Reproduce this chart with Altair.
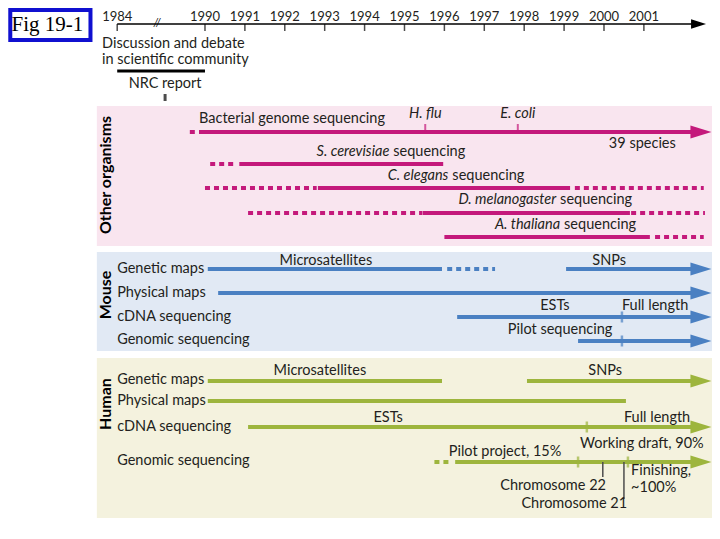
import altair as alt
import pandas as pd

FONT = "Lato"
TXT = "#231f20"

# ---------------- time axis (years; 1984 drawn on a broken, compressed stretch)
years = list(range(1990, 2002))
year_labels = [str(y) for y in years]
start_label = "1984"
start_pos = 1987.8
break_pos = 1988.8
axis_end = 2002.27
axis_tip = 2002.37

# ---------------- lanes (row position of each activity line)
lane_names = ["bact", "scer", "cel", "dmel", "atha",
              "m_gen", "m_phys", "m_cdna", "m_genomic",
              "h_gen", "h_phys", "h_cdna", "h_genomic"]
lane_rows = [132, 164, 188, 213, 237,
             269, 293, 317, 341,
             381, 401, 427, 462]
lane_group = ["other"] * 5 + ["mouse"] * 4 + ["human"] * 4
lane_row = dict(zip(lane_names, lane_rows))
lane_grp = dict(zip(lane_names, lane_group))

# ---------------- activity segments (start / end year, status)
seg_lane = ["bact", "bact",
            "scer", "scer",
            "cel", "cel", "cel",
            "dmel", "dmel", "dmel",
            "atha", "atha",
            "m_gen", "m_gen", "m_gen", "m_phys", "m_cdna", "m_genomic",
            "h_gen", "h_gen", "h_phys", "h_cdna", "h_genomic", "h_genomic"]
seg_start = [1989.62, 1989.85,
             1990.13, 1990.86,
             1990.0, 1992.83, 1999.27,
             1991.08, 1995.46, 2000.68,
             1996.0, 2001.28,
             1990.07, 1996.07, 1999.05, 1990.33, 1996.32, 1999.35,
             1990.07, 1998.07, 1990.07, 1991.08, 1995.75, 1996.27]
seg_end = [1989.75, 2002.23,
           1990.8, 1995.97,
           1992.8, 1999.15, 2002.5,
           1995.45, 2000.65, 2002.53,
           2001.15, 2002.5,
           1995.94, 1997.27, 2002.23, 2002.23, 2002.23, 2002.23,
           1995.94, 2002.23, 2000.55, 2002.23, 1996.12, 2002.23]
seg_status = ["planned", "done",
              "planned", "done",
              "planned", "done", "planned",
              "planned", "done", "planned",
              "done", "planned",
              "done", "planned", "done", "done", "done", "done",
              "done", "done", "done", "done", "planned", "done"]

# lanes that continue past the end of the axis (arrow heads)
arrow_lanes = ["bact", "m_gen", "m_phys", "m_cdna", "m_genomic",
               "h_gen", "h_cdna", "h_genomic"]
arrow_pos = 2002.43

# milestones marked on lanes
ms_lane = ["m_cdna", "m_genomic", "h_cdna", "h_genomic", "h_genomic"]
ms_year = [2000.45, 2000.45, 1999.57, 1999.35, 2000.6]

# bacterial genomes completed
bact_names = ["H. flu", "E. coli"]
bact_years = [1995.52, 1997.84]

# chromosomes finished
chrom_names = ["Chromosome 22", "Chromosome 21"]
chrom_years = [1999.97, 2000.5]
chrom_label_rows = [486, 504]
chrom_line_ends = [477, 499]

# ---------------- panels
panel_names = ["other", "mouse", "human"]
panel_titles = ["Other organisms", "Mouse", "Human"]
panel_title_rows = [175, 295, 404]
panel_top = [106, 252, 358]
panel_bottom = [246, 351, 518]
panel_left = 1987.29
panel_right = 2002.83

# ---------------- text
row_labels = ["Genetic maps", "Physical maps", "cDNA sequencing", "Genomic sequencing"] * 2
row_label_rows = [269, 293, 317, 340, 380, 401, 427, 461]
row_label_x = 1987.8

center_text = ["NRC report", "Microsatellites", "SNPs", "ESTs", "Pilot sequencing",
               "Microsatellites", "SNPs", "ESTs", "Full length",
               "Pilot project, 15%", "Working draft, 90%"]
center_x = [1989.0, 1993.03, 2000.13, 1998.77, 1998.9,
            1992.88, 2000.03, 1994.59, 2001.33,
            1997.52, 2000.95]
center_row = [84, 261, 261, 306, 330,
              371, 371, 418, 418,
              452, 444]

left_text = ["Discussion and debate", "in scientific community",
             "Bacterial genome sequencing", "Full length", "Finishing,", "~100%"]
left_x = [1987.42, 1987.42, 1989.85, 2000.45, 2000.68, 2000.68]
left_row = [44, 60, 119, 306, 471, 488]

species_label = "39 species"
species_x, species_row = 2001.8, 144

organism_names = ["S. cerevisiae", "C. elegans", "D. melanogaster", "A. thaliana"]
organism_split = [1994.62, 1996.1, 1998.8, 1998.9]
organism_rows = [152, 176, 200, 225]

fig_label = "Fig 19-1"

# =====================================================================
X0, X1 = 1985.063, 2002.707
xs = alt.Scale(domain=[X0, X1], nice=False, zero=False)
ys = alt.Scale(domain=[8, 531], nice=False, zero=False, reverse=True)
grp_scale = alt.Scale(domain=["other", "mouse", "human"],
                      range=["#c4197b", "#4a80c2", "#9db53d"])
panel_scale = alt.Scale(domain=panel_names, range=["#f9e5ef", "#e1e9f4", "#f4f2de"])


def X(f="x"):
    return alt.X(f"{f}:Q", scale=xs, axis=None)


def Y(f="y"):
    return alt.Y(f"{f}:Q", scale=ys, axis=None)


def texts(df, align="left", style="normal", weight="normal", size=14.5, angle=0, font=FONT, color=TXT):
    return alt.Chart(df).mark_text(align=align, baseline="middle", font=font, fontSize=size,
                                   fontStyle=style, fontWeight=weight, angle=angle,
                                   color=color).encode(x=X(), y=Y(), text="t:N")


layers = []

# panels
pdf = pd.DataFrame({"panel": panel_names, "x": panel_left, "x2": panel_right,
                    "y": panel_top, "y2": panel_bottom})
layers.append(alt.Chart(pdf).mark_rect().encode(
    x=X(), x2="x2:Q", y=Y(), y2="y2:Q",
    fill=alt.Fill("panel:N", scale=panel_scale, legend=None)))

# figure label box
fdf = pd.DataFrame({"x": [1985.12], "x2": [1987.13], "y": [10], "y2": [40]})
layers.append(alt.Chart(fdf).mark_rect(fill="white", stroke="#1010d0", strokeWidth=4).encode(
    x=X(), x2="x2:Q", y=Y(), y2="y2:Q"))
layers.append(texts(pd.DataFrame({"t": [fig_label], "x": [1986.05], "y": [25]}),
                    align="center", size=21, font="Liberation Serif", color="black"))

# time axis
axis_row = 24
layers.append(alt.Chart(pd.DataFrame({"x": [start_pos], "x2": [axis_end], "y": [axis_row]}))
              .mark_rule(color="black", strokeWidth=1.5).encode(x=X(), x2="x2:Q", y=Y()))
tick_df = pd.DataFrame({"x": [start_pos] + years, "y": axis_row + 3.5})
layers.append(alt.Chart(tick_df).mark_tick(orient="vertical", size=7, thickness=1.5, color="black")
              .encode(x=X(), y=Y()))
layers.append(alt.Chart(pd.DataFrame({"x": [axis_tip], "y": [axis_row]}))
              .mark_point(shape="M-1,-0.62L1,0L-1,0.62Z", size=225, filled=True, opacity=1,
                          color="black", strokeWidth=0).encode(x=X(), y=Y()))
layers.append(texts(pd.DataFrame({"t": ["//"], "x": [break_pos], "y": [axis_row - 1]}),
                    align="center", size=11, style="italic", color="black"))
layers.append(texts(pd.DataFrame({"t": [start_label] + year_labels, "x": [start_pos] + years, "y": 16.5}),
                    align="center", size=13))

# discussion bar and NRC report mark
layers.append(alt.Chart(pd.DataFrame({"x": [start_pos], "x2": [1990.0], "y": [71]}))
              .mark_rule(color="black", strokeWidth=3).encode(x=X(), x2="x2:Q", y=Y()))
layers.append(alt.Chart(pd.DataFrame({"x": [1989.0], "y": [97.5]}))
              .mark_tick(orient="vertical", size=7, thickness=3, color="black").encode(x=X(), y=Y()))

# segments
sdf = pd.DataFrame({"lane": seg_lane, "x": seg_start, "x2": seg_end, "status": seg_status})
sdf["y"] = sdf["lane"].map(lane_row)
sdf["group"] = sdf["lane"].map(lane_grp)
col = alt.Color("group:N", scale=grp_scale, legend=None)
layers.append(alt.Chart(sdf[sdf.status == "done"]).mark_rule(strokeWidth=4, strokeCap="butt")
              .encode(x=X(), x2="x2:Q", y=Y(), color=col))
layers.append(alt.Chart(sdf[sdf.status == "planned"]).mark_rule(strokeWidth=4, strokeCap="butt",
                                                                  strokeDash=[5, 4])
              .encode(x=X(), x2="x2:Q", y=Y(), color=col))

# arrow heads
adf = pd.DataFrame({"lane": arrow_lanes, "x": arrow_pos})
adf["y"] = adf["lane"].map(lane_row)
adf["group"] = adf["lane"].map(lane_grp)
layers.append(alt.Chart(adf).mark_point(shape="M-1,-0.62L1,0L-1,0.62Z", size=441, filled=True,
                                        opacity=1, strokeWidth=0)
              .encode(x=X(), y=Y(), color=col))

# milestones
mdf = pd.DataFrame({"lane": ms_lane, "x": ms_year})
mdf["y"] = mdf["lane"].map(lane_row)
mdf["group"] = mdf["lane"].map(lane_grp)
layers.append(alt.Chart(mdf).mark_tick(orient="vertical", size=11, thickness=2.5)
              .encode(x=X(), y=Y(), color=col))
bdf = pd.DataFrame({"t": bact_names, "x": bact_years, "y": 128, "group": "other"})
layers.append(alt.Chart(bdf).mark_tick(orient="vertical", size=8, thickness=2)
              .encode(x=X(), y=Y(), color=col))
layers.append(texts(bdf.assign(y=114), align="center", style="italic"))

# chromosome leader lines
cdf = pd.DataFrame({"t": chrom_names, "x": chrom_years, "y": lane_row["h_genomic"], "y2": chrom_line_ends,
                    "ly": chrom_label_rows})
layers.append(alt.Chart(cdf).mark_rule(color="#4d4d4d", strokeWidth=1.5)
              .encode(x=X(), y=Y(), y2="y2:Q"))
layers.append(texts(cdf.assign(x=cdf.x + 0.08, y=cdf.ly), align="right"))

# panel titles
layers.append(texts(pd.DataFrame({"t": panel_titles, "x": 1987.53, "y": panel_title_rows}),
                    align="center", weight="bold", angle=270, size=16, color="black"))

# row labels and annotations
layers.append(texts(pd.DataFrame({"t": row_labels, "x": row_label_x, "y": row_label_rows})))
layers.append(texts(pd.DataFrame({"t": left_text, "x": left_x, "y": left_row})))
layers.append(texts(pd.DataFrame({"t": center_text, "x": center_x, "y": center_row}), align="center"))
layers.append(texts(pd.DataFrame({"t": [species_label], "x": [species_x], "y": [species_row]}), align="right"))
odf = pd.DataFrame({"t": organism_names, "x": organism_split, "y": organism_rows})
layers.append(texts(odf, align="right", style="italic"))
layers.append(texts(pd.DataFrame({"t": "sequencing", "x": [v + 0.1 for v in organism_split],
                                  "y": organism_rows})))

chart = alt.layer(*layers).properties(
    width=704, height=523, padding=0, autosize=alt.AutoSizeParams(type="none"),
    background="white"
).configure_view(stroke=None)

chart.save("out.html", embed_options={"renderer": "svg", "actions": False})
